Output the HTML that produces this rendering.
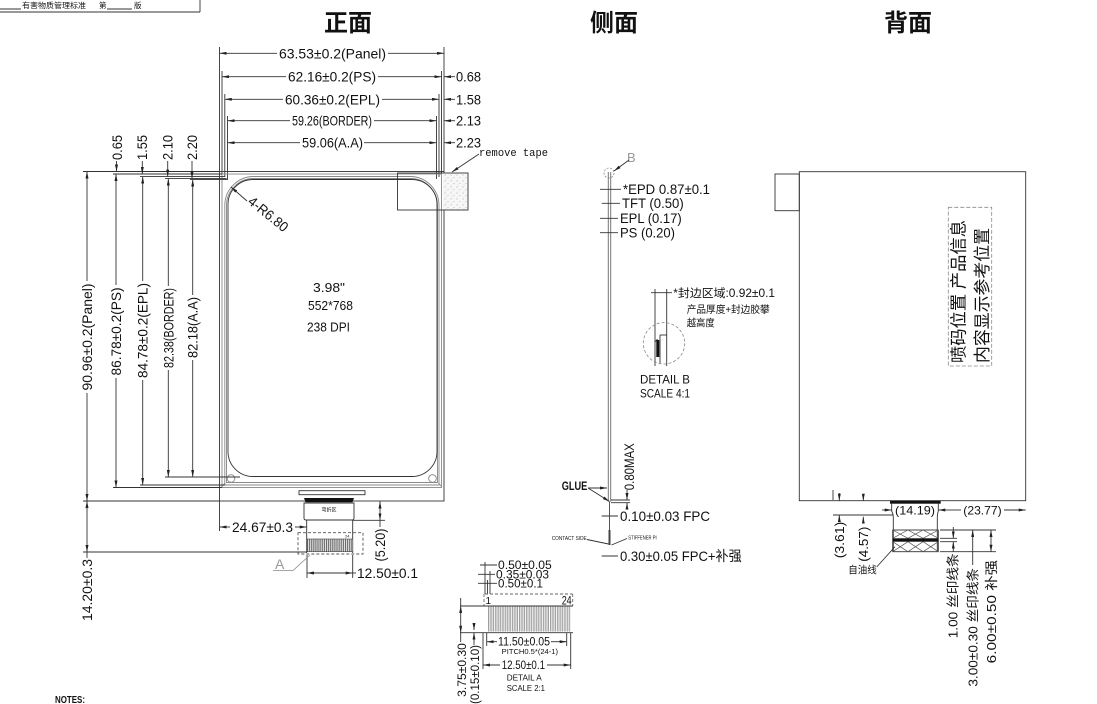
<!DOCTYPE html>
<html><head><meta charset="utf-8">
<style>
html,body{margin:0;padding:0;background:#fff;}
svg{display:block}
.l{stroke:#333;stroke-width:0.9;fill:none}
.g{stroke:#888;stroke-width:0.9;fill:none}
text{font-family:"Liberation Sans","Noto Sans CJK SC",sans-serif;fill:#111}
.d{font-size:14px}
.m{font-family:"Liberation Mono","Liberation Sans",monospace}
</style></head><body>
<svg width="1097" height="704" viewBox="0 0 1097 704" xmlns="http://www.w3.org/2000/svg">
<defs>
<marker id="a" viewBox="0 0 7 3" refX="7" refY="1.5" markerWidth="7" markerHeight="3" markerUnits="userSpaceOnUse" orient="auto"><path d="M0,0L7,1.5L0,3z" fill="#222"/></marker>
<pattern id="dots" width="6" height="6" patternUnits="userSpaceOnUse"><rect width="6" height="6" fill="#f7f7f7"/><circle cx="1" cy="1" r="0.5" fill="#999"/><circle cx="4" cy="3.5" r="0.5" fill="#aaa"/><circle cx="2" cy="5" r="0.4" fill="#bbb"/></pattern>
<pattern id="hatch" width="4" height="4" patternUnits="userSpaceOnUse" patternTransform="rotate(45)"><line x1="0" y1="0" x2="0" y2="4" stroke="#555" stroke-width="0.8"/></pattern>
<pattern id="pins" x="307" y="0" width="1.9" height="10" patternUnits="userSpaceOnUse"><rect width="1.9" height="10" fill="#fff"/><rect x="0" width="1.1" height="10" fill="#666"/></pattern>
<pattern id="pinsA" x="488" y="0" width="3.445" height="10" patternUnits="userSpaceOnUse"><line x1="0.4" y1="0" x2="0.4" y2="10" stroke="#777" stroke-width="0.7"/><line x1="2.1" y1="0" x2="2.1" y2="10" stroke="#777" stroke-width="0.7"/></pattern>
</defs>

<!-- header -->
<g class="l" stroke-width="0.7">
<line x1="0" y1="12" x2="200" y2="12"/><line x1="200" y1="0" x2="200" y2="12"/>
<line x1="0" y1="9" x2="21" y2="9"/><line x1="107" y1="9" x2="132" y2="9"/>
</g>
<text x="22" y="8" font-size="7.5" textLength="64" lengthAdjust="spacingAndGlyphs">有害物质管理标准</text>
<text x="99" y="8" font-size="7.5">第</text>
<text x="134" y="8" font-size="7.5">版</text>

<!-- titles -->
<text x="348" y="31" text-anchor="middle" font-size="24" font-weight="bold">正面</text>
<text x="614" y="31" text-anchor="middle" font-size="24" font-weight="bold">侧面</text>
<text x="908" y="31" text-anchor="middle" font-size="24" font-weight="bold">背面</text>

<!-- ============ FRONT VIEW ============ -->
<g class="l">
<line x1="219.5" y1="47" x2="219.5" y2="171.5"/>
<line x1="444" y1="47" x2="444" y2="171.5"/>
<line x1="222" y1="71" x2="222" y2="174"/>
<line x1="441.5" y1="71" x2="441.5" y2="174"/>
<line x1="224.8" y1="94" x2="224.8" y2="177"/>
<line x1="439" y1="94" x2="439" y2="177"/>
<line x1="227.5" y1="116" x2="227.5" y2="179"/>
<line x1="436.5" y1="116" x2="436.5" y2="179"/>
<line x1="277" y1="53.3" x2="219.5" y2="53.3" marker-end="url(#a)"/>
<line x1="388" y1="53.3" x2="444" y2="53.3" marker-end="url(#a)"/>
<line x1="286" y1="76.7" x2="222" y2="76.7" marker-end="url(#a)"/>
<line x1="378" y1="76.7" x2="441.5" y2="76.7" marker-end="url(#a)"/>
<line x1="455" y1="76.7" x2="444" y2="76.7" marker-end="url(#a)"/>
<line x1="283" y1="99.3" x2="224.8" y2="99.3" marker-end="url(#a)"/>
<line x1="382" y1="99.3" x2="439" y2="99.3" marker-end="url(#a)"/>
<line x1="455" y1="99.3" x2="444" y2="99.3" marker-end="url(#a)"/>
<line x1="290" y1="120.7" x2="227.5" y2="120.7" marker-end="url(#a)"/>
<line x1="374" y1="120.7" x2="436.5" y2="120.7" marker-end="url(#a)"/>
<line x1="455" y1="120.7" x2="444" y2="120.7" marker-end="url(#a)"/>
<line x1="300" y1="142.7" x2="227.5" y2="142.7" marker-end="url(#a)"/>
<line x1="364" y1="142.7" x2="436.5" y2="142.7" marker-end="url(#a)"/>
<line x1="455" y1="142.7" x2="444" y2="142.7" marker-end="url(#a)"/>
</g>
<text class="d" x="279" y="58.3" textLength="107" lengthAdjust="spacingAndGlyphs">63.53±0.2(Panel)</text>
<text class="d" x="288" y="81.7" textLength="88" lengthAdjust="spacingAndGlyphs">62.16±0.2(PS)</text>
<text class="d" x="285" y="104.3" textLength="95" lengthAdjust="spacingAndGlyphs">60.36±0.2(EPL)</text>
<text class="d" x="292" y="125.7" textLength="80" lengthAdjust="spacingAndGlyphs">59.26(BORDER)</text>
<text class="d" x="302" y="147.7" textLength="61" lengthAdjust="spacingAndGlyphs">59.06(A.A)</text>
<text class="d" x="456" y="81.7" textLength="25" lengthAdjust="spacingAndGlyphs">0.68</text>
<text class="d" x="456" y="104.3" textLength="25" lengthAdjust="spacingAndGlyphs">1.58</text>
<text class="d" x="456" y="125.7" textLength="25" lengthAdjust="spacingAndGlyphs">2.13</text>
<text class="d" x="456" y="147.7" textLength="25" lengthAdjust="spacingAndGlyphs">2.23</text>

<!-- panel -->
<rect class="l" x="219.5" y="171.5" width="224.5" height="329.5"/>
<rect class="g" x="222" y="174" width="219.5" height="313.5"/>
<path class="g" d="M224.8,485 V205.5 A29,29 0 0 1 253.8,176.5 H410 A29,29 0 0 1 439,205.5 V485 Z"/>
<path class="g" d="M226.5,482.5 V205.5 A27,27 0 0 1 253.5,178.5 H410.5 A27,27 0 0 1 437.5,205.5 V482.5 Z"/>
<rect class="l" x="228" y="179.5" width="209" height="297" rx="25" ry="25" stroke="#222"/>
<circle class="g" cx="231" cy="478.5" r="3.8"/>
<circle class="g" cx="432.5" cy="478.5" r="3.8"/>
<line class="g" x1="221.5" y1="487" x2="225" y2="483"/>
<line class="g" x1="442" y1="487" x2="438.5" y2="483"/>

<!-- remove tape -->
<rect x="443" y="173" width="25" height="37" fill="url(#dots)"/>
<rect class="l" x="397.5" y="173" width="70.5" height="37" stroke="#555"/>
<line class="l" x1="479" y1="154" x2="452" y2="172" marker-end="url(#a)"/>
<text class="m" x="479" y="156" font-size="11" textLength="69" lengthAdjust="spacingAndGlyphs">remove tape</text>

<!-- 4-R6.80 -->
<line class="l" x1="247" y1="201" x2="231" y2="187" marker-end="url(#a)"/>
<text class="d" transform="translate(247,203) rotate(39)" textLength="47" lengthAdjust="spacingAndGlyphs">4-R6.80</text>

<!-- centre texts -->
<text x="329" y="292" font-size="13" text-anchor="middle" textLength="32" lengthAdjust="spacingAndGlyphs">3.98"</text>
<text x="330.5" y="310" font-size="13" text-anchor="middle" textLength="45" lengthAdjust="spacingAndGlyphs">552*768</text>
<text x="328.5" y="331.5" font-size="13" text-anchor="middle" textLength="43" lengthAdjust="spacingAndGlyphs">238 DPI</text>

<!-- left vertical dims -->
<g class="l">
<line x1="83" y1="171.5" x2="219.5" y2="171.5"/>
<line x1="113" y1="174" x2="222" y2="174"/>
<line x1="140" y1="176.6" x2="224.8" y2="176.6"/>
<line x1="165" y1="178.6" x2="226.5" y2="178.6"/>
<line x1="190" y1="179.6" x2="228" y2="179.6"/>
<line x1="83" y1="501" x2="219.5" y2="501"/>
<line x1="113" y1="487.5" x2="222" y2="487.5"/>
<line x1="140" y1="485" x2="224.8" y2="485"/>
<line x1="165" y1="477" x2="240" y2="477"/>

<line x1="87" y1="281" x2="87" y2="171.5" marker-end="url(#a)"/>
<line x1="87" y1="393" x2="87" y2="501" marker-end="url(#a)"/>
<line x1="116" y1="285" x2="116" y2="174" marker-end="url(#a)"/>
<line x1="116" y1="378" x2="116" y2="487.5" marker-end="url(#a)"/>
<line x1="142.7" y1="281" x2="142.7" y2="176.6" marker-end="url(#a)"/>
<line x1="142.7" y1="380" x2="142.7" y2="485" marker-end="url(#a)"/>
<line x1="168.3" y1="286" x2="168.3" y2="178.6" marker-end="url(#a)"/>
<line x1="168.3" y1="370" x2="168.3" y2="477" marker-end="url(#a)"/>
<line x1="192.7" y1="295" x2="192.7" y2="179.6" marker-end="url(#a)"/>
<line x1="192.7" y1="360" x2="192.7" y2="477" marker-end="url(#a)"/>

<line x1="116.5" y1="161" x2="116.5" y2="171.5" marker-end="url(#a)"/>
<line x1="142.3" y1="161" x2="142.3" y2="174" marker-end="url(#a)"/>
<line x1="167.7" y1="161" x2="167.7" y2="176.6" marker-end="url(#a)"/>
<line x1="192" y1="161" x2="192" y2="178.6" marker-end="url(#a)"/>
</g>
<text class="d" transform="translate(92,337) rotate(-90)" text-anchor="middle" textLength="107" lengthAdjust="spacingAndGlyphs">90.96±0.2(Panel)</text>
<text class="d" transform="translate(121,331.5) rotate(-90)" text-anchor="middle" textLength="88" lengthAdjust="spacingAndGlyphs">86.78±0.2(PS)</text>
<text class="d" transform="translate(147.7,330.5) rotate(-90)" text-anchor="middle" textLength="95" lengthAdjust="spacingAndGlyphs">84.78±0.2(EPL)</text>
<text class="d" transform="translate(173.3,328) rotate(-90)" text-anchor="middle" textLength="80" lengthAdjust="spacingAndGlyphs">82.38(BORDER)</text>
<text class="d" transform="translate(197.7,327.5) rotate(-90)" text-anchor="middle" textLength="61" lengthAdjust="spacingAndGlyphs">82.18(A.A)</text>
<text class="d" transform="translate(121.8,147.5) rotate(-90)" text-anchor="middle" textLength="25" lengthAdjust="spacingAndGlyphs">0.65</text>
<text class="d" transform="translate(147,147.5) rotate(-90)" text-anchor="middle" textLength="25" lengthAdjust="spacingAndGlyphs">1.55</text>
<text class="d" transform="translate(172.3,147.5) rotate(-90)" text-anchor="middle" textLength="25" lengthAdjust="spacingAndGlyphs">2.10</text>
<text class="d" transform="translate(196.8,147.5) rotate(-90)" text-anchor="middle" textLength="25" lengthAdjust="spacingAndGlyphs">2.20</text>

<!-- FPC front -->
<rect class="l" x="299" y="490.7" width="66" height="4"/>
<path d="M304,498 H354 L352.5,502.3 H305.5 Z" fill="#111"/>
<path class="l" d="M304,503 H354 V518 Q354,520 352,520 H306 Q304,520 304,518 Z" fill="url(#hatch)"/>
<rect x="321" y="507" width="16" height="5.5" fill="#fff"/>
<text x="329" y="511.5" font-size="5" text-anchor="middle">弯折区</text>
<g class="l">
<line x1="306.7" y1="520" x2="306.7" y2="553"/>
<line x1="352.7" y1="520" x2="352.7" y2="553"/>
<rect x="298" y="532.7" width="65" height="21.3" stroke="#555" stroke-dasharray="3,2"/>
</g>
<rect x="307" y="539" width="45.7" height="12.7" fill="url(#pins)" stroke="#444" stroke-width="0.6"/>
<text x="345" y="537.6" font-size="4">24</text>
<g class="l">
<line x1="219.5" y1="501" x2="219.5" y2="531"/>
<line x1="230" y1="527" x2="219.5" y2="527" marker-end="url(#a)"/>
<line x1="295" y1="527" x2="306.7" y2="527" marker-end="url(#a)"/>
<line x1="353" y1="520.3" x2="385" y2="520.3"/>
<line x1="380" y1="511" x2="380" y2="501.5" marker-end="url(#a)"/>
<line x1="380" y1="511" x2="380" y2="520.3" marker-end="url(#a)"/>
<line x1="380" y1="520.3" x2="380" y2="527"/>
<line x1="307" y1="555" x2="307" y2="578"/>
<line x1="352.7" y1="555" x2="352.7" y2="578"/>
<line x1="330" y1="573" x2="307" y2="573" marker-end="url(#a)"/>
<line x1="330" y1="573" x2="352.7" y2="573" marker-end="url(#a)"/>
<line x1="352.7" y1="573" x2="356" y2="573"/>
<line x1="83" y1="552" x2="307" y2="552"/>
<line x1="87" y1="526" x2="87" y2="501" marker-end="url(#a)"/>
<line x1="87" y1="526" x2="87" y2="552" marker-end="url(#a)"/>
<line x1="87" y1="552" x2="87" y2="558"/>
</g>
<text class="d" x="232" y="532" textLength="61" lengthAdjust="spacingAndGlyphs">24.67±0.3</text>
<text class="d" transform="translate(385,545) rotate(-90)" text-anchor="middle" textLength="33" lengthAdjust="spacingAndGlyphs">(5.20)</text>
<text class="d" x="357" y="578" textLength="61" lengthAdjust="spacingAndGlyphs">12.50±0.1</text>
<text class="d" transform="translate(92,590) rotate(-90)" text-anchor="middle" textLength="62" lengthAdjust="spacingAndGlyphs">14.20±0.3</text>
<text x="275" y="569" font-size="14" style="fill:#999">A</text>
<polyline points="273,570.5 293,570.5 310,555" fill="none" stroke="#888" stroke-width="0.8"/>

<!-- ============ SIDE VIEW ============ -->
<g>
<line x1="608.3" y1="172" x2="608.3" y2="501.7" stroke="#777" stroke-width="1"/>
<line x1="610.7" y1="172" x2="610.7" y2="501.7" stroke="#777" stroke-width="1"/>
<line x1="609.5" y1="501.7" x2="609.5" y2="545" stroke="#555" stroke-width="1"/>
<line x1="609.5" y1="530" x2="609.5" y2="545" stroke="#444" stroke-width="2"/>
<circle cx="609" cy="173" r="5" fill="none" stroke="#888" stroke-width="0.8" stroke-dasharray="2,1.5"/>
</g>
<text x="627" y="162" font-size="13" style="fill:#999">B</text>
<line class="l" x1="629" y1="160" x2="614" y2="171" marker-end="url(#a)" stroke="#666"/>
<g class="l">
<line x1="600" y1="189.3" x2="621" y2="189.3"/>
<line x1="601.7" y1="203.3" x2="620" y2="203.3"/>
<line x1="600" y1="218.3" x2="618" y2="218.3"/>
<line x1="600" y1="232.7" x2="618" y2="232.7"/>
</g>
<text class="d" x="623" y="194" textLength="87" lengthAdjust="spacingAndGlyphs">*EPD 0.87±0.1</text>
<text class="d" x="622" y="208" textLength="61.7" lengthAdjust="spacingAndGlyphs">TFT (0.50)</text>
<text class="d" x="620" y="223" textLength="61.7" lengthAdjust="spacingAndGlyphs">EPL (0.17)</text>
<text class="d" x="620" y="237.4" textLength="55" lengthAdjust="spacingAndGlyphs">PS (0.20)</text>

<!-- detail B -->
<g class="l" stroke-width="0.8">
<line x1="655" y1="289" x2="655" y2="366"/>
<line x1="666.7" y1="289" x2="666.7" y2="366"/>
<line x1="651" y1="292.7" x2="672" y2="292.7"/>
<line x1="660" y1="335" x2="660" y2="364"/>
<line x1="660" y1="335" x2="666.7" y2="335"/>
<line x1="655" y1="342" x2="657.5" y2="339"/>
</g>
<rect x="656.3" y="340" width="3" height="17" fill="#111"/>
<circle cx="664" cy="343.3" r="20.7" fill="none" stroke="#888" stroke-width="0.8" stroke-dasharray="3,2"/>
<text x="673.3" y="297" font-size="11.5" textLength="101.7" lengthAdjust="spacingAndGlyphs">*封边区域:0.92±0.1</text>
<text x="686.7" y="313" font-size="10" textLength="83" lengthAdjust="spacingAndGlyphs">产品厚度+封边胶攀</text>
<text x="686.7" y="326.5" font-size="10" textLength="28" lengthAdjust="spacingAndGlyphs">越高度</text>
<text x="640" y="383.5" font-size="12" textLength="50" lengthAdjust="spacingAndGlyphs">DETAIL B</text>
<text x="640" y="397.5" font-size="12" textLength="50" lengthAdjust="spacingAndGlyphs">SCALE 4:1</text>

<!-- side bottom -->
<g class="l" stroke-width="0.8">
<line x1="611" y1="500" x2="630" y2="500"/>
<line x1="611" y1="502.7" x2="630" y2="502.7"/>
<line x1="627" y1="490" x2="627" y2="500" marker-end="url(#a)"/>
<line x1="627" y1="509" x2="627" y2="502.7" marker-end="url(#a)"/>
<line x1="588" y1="488" x2="607" y2="488" marker-end="url(#a)"/>
<line x1="588" y1="488" x2="609.5" y2="501.5" marker-end="url(#a)"/>
<line x1="601.7" y1="516" x2="618" y2="516"/>
<line x1="601.7" y1="556" x2="618" y2="556"/>
<line x1="587" y1="539.5" x2="608.5" y2="544"/>
<line x1="627" y1="538.5" x2="611.5" y2="545"/>
</g>
<text transform="translate(634,466.7) rotate(-90)" class="d" text-anchor="middle" textLength="47" lengthAdjust="spacingAndGlyphs">0.80MAX</text>
<text x="561.7" y="490" font-size="12" font-weight="bold" textLength="25.6" lengthAdjust="spacingAndGlyphs">GLUE</text>
<text x="620" y="521" font-size="14" textLength="90" lengthAdjust="spacingAndGlyphs">0.10±0.03 FPC</text>
<text x="551.7" y="540" font-size="5" textLength="35" lengthAdjust="spacingAndGlyphs">CONTACT SIDE</text>
<text x="628.3" y="539.5" font-size="5" textLength="28.4" lengthAdjust="spacingAndGlyphs">STIFFENER PI</text>
<text x="620" y="561" font-size="14" textLength="121.7" lengthAdjust="spacingAndGlyphs">0.30±0.05 FPC+补强</text>

<!-- ============ BACK VIEW ============ -->
<rect class="l" x="799.3" y="171.7" width="226.4" height="329" stroke="#555"/>
<rect class="l" x="775" y="174" width="24.3" height="36.7" stroke="#555"/>
<rect x="948.3" y="207.3" width="43.4" height="158.7" fill="none" stroke="#888" stroke-width="0.8" stroke-dasharray="4,2"/>
<text transform="translate(964.6,291.5) rotate(-90)" text-anchor="middle" font-size="17" textLength="143" lengthAdjust="spacingAndGlyphs">喷码位置 产品信息</text>
<text transform="translate(988,295.5) rotate(-90)" text-anchor="middle" font-size="17" textLength="135" lengthAdjust="spacingAndGlyphs">内容显示参考位置</text>

<rect x="890" y="500.7" width="50.7" height="3" fill="#111"/>
<g class="l">
<path d="M891.7,503 V511 Q893.3,514 893.3,517 V551.7"/>
<path d="M938.3,503 V511 Q937.3,514 937.3,517 V551.7"/>
<rect x="892.7" y="530" width="45.6" height="21.7"/>
<path d="M892.7,530 L907.9,538.3 L923.1,530 L938.3,538.3 M892.7,538.3 L907.9,530 L923.1,538.3 L938.3,530" stroke="#555" stroke-width="0.7"/>
<path d="M892.7,541.7 L907.9,551.7 L923.1,541.7 L938.3,551.7 M892.7,551.7 L907.9,541.7 L923.1,551.7 L938.3,541.7" stroke="#555" stroke-width="0.7"/>
</g>
<rect x="892.7" y="538.3" width="45.6" height="3.4" fill="#111"/>
<g class="l" stroke-width="0.8">
<line x1="882" y1="510" x2="891.7" y2="510" marker-end="url(#a)"/>
<line x1="948" y1="510" x2="938.3" y2="510" marker-end="url(#a)"/>
<line x1="948" y1="510" x2="961" y2="510"/>
<line x1="1004" y1="510" x2="1025.7" y2="510" marker-end="url(#a)"/>
<line x1="940" y1="530" x2="996" y2="530"/>
<line x1="940" y1="538.3" x2="957" y2="538.3"/>
<line x1="940" y1="541.7" x2="957" y2="541.7"/>
<line x1="940" y1="551.7" x2="996" y2="551.7"/>
<line x1="953.3" y1="527" x2="953.3" y2="538.3" marker-end="url(#a)"/>
<line x1="953.3" y1="552" x2="953.3" y2="541.7" marker-end="url(#a)"/>
<line x1="972.7" y1="545" x2="972.7" y2="530" marker-end="url(#a)"/>
<line x1="972.7" y1="545" x2="972.7" y2="565"/>
<line x1="991" y1="541" x2="991" y2="530" marker-end="url(#a)"/>
<line x1="991" y1="541" x2="991" y2="551.7" marker-end="url(#a)"/>
<line x1="833" y1="490" x2="833" y2="500"/>
<line x1="833" y1="515" x2="893" y2="515"/>
<line x1="839.3" y1="493" x2="839.3" y2="500.7" marker-end="url(#a)"/>
<line x1="839.3" y1="520" x2="839.3" y2="515" marker-end="url(#a)"/>
<line x1="863.3" y1="496" x2="863.3" y2="500.7" marker-end="url(#a)"/>
<line x1="863.3" y1="522" x2="863.3" y2="516.7" marker-end="url(#a)"/>
<line x1="876.7" y1="567" x2="895" y2="546.7"/>
</g>
<text x="895" y="514.5" font-size="12" textLength="40" lengthAdjust="spacingAndGlyphs">(14.19)</text>
<text x="963.3" y="514.5" font-size="12" textLength="38.4" lengthAdjust="spacingAndGlyphs">(23.77)</text>
<text transform="translate(957.5,595.8) rotate(-90)" text-anchor="middle" font-size="13" textLength="85" lengthAdjust="spacingAndGlyphs">1.00 丝印线条</text>
<text transform="translate(977.5,627.3) rotate(-90)" text-anchor="middle" font-size="13" textLength="118.7" lengthAdjust="spacingAndGlyphs">3.00±0.30 丝印线条</text>
<text transform="translate(995.8,611.7) rotate(-90)" text-anchor="middle" font-size="13" textLength="103.3" lengthAdjust="spacingAndGlyphs">6.00±0.50 补强</text>
<text transform="translate(843.8,540) rotate(-90)" text-anchor="middle" font-size="12.5" textLength="36.6" lengthAdjust="spacingAndGlyphs">(3.61)</text>
<text transform="translate(867.8,544.2) rotate(-90)" text-anchor="middle" font-size="12.5" textLength="35" lengthAdjust="spacingAndGlyphs">(4.57)</text>
<text x="848.3" y="573.5" font-size="10" textLength="28.4" lengthAdjust="spacingAndGlyphs">自油线</text>

<!-- ============ DETAIL A ============ -->
<g class="l" stroke-width="0.8">
<line x1="480" y1="565" x2="497" y2="565"/>
<line x1="478" y1="574.3" x2="495" y2="574.3"/>
<line x1="478" y1="583.3" x2="497" y2="583.3"/>
<line x1="485" y1="562" x2="485" y2="594"/>
<line x1="490" y1="571" x2="490" y2="594"/>
<line x1="487.5" y1="580" x2="487.5" y2="594"/>
<line x1="485" y1="594" x2="572.7" y2="594" stroke-dasharray="3,2" stroke="#666"/>
<line x1="484" y1="594" x2="484" y2="606" stroke-dasharray="3,2" stroke="#666"/>
<line x1="572.7" y1="594" x2="572.7" y2="606" stroke-dasharray="3,2" stroke="#666"/>
<line x1="460" y1="606" x2="573" y2="606"/>
<line x1="460" y1="632.7" x2="573" y2="632.7"/>
<line x1="460.7" y1="619" x2="460.7" y2="606" marker-end="url(#a)"/>
<line x1="460.7" y1="619" x2="460.7" y2="632.7" marker-end="url(#a)"/>
<line x1="460.7" y1="598" x2="460.7" y2="606"/>
<line x1="460.7" y1="632.7" x2="460.7" y2="642"/>
<line x1="474" y1="624" x2="474" y2="630" marker-end="url(#a)"/>
<line x1="474" y1="640" x2="474" y2="632.7" marker-end="url(#a)"/>
<line x1="474" y1="640" x2="474" y2="645"/>
<line x1="486.7" y1="633" x2="486.7" y2="646"/>
<line x1="566.7" y1="633" x2="566.7" y2="646"/>
<line x1="497" y1="641.7" x2="486.7" y2="641.7" marker-end="url(#a)"/>
<line x1="551" y1="641.7" x2="566.7" y2="641.7" marker-end="url(#a)"/>
<line x1="483" y1="633" x2="483" y2="669"/>
<line x1="570.7" y1="633" x2="570.7" y2="669"/>
<line x1="500" y1="665" x2="483" y2="665" marker-end="url(#a)"/>
<line x1="547" y1="665" x2="570.7" y2="665" marker-end="url(#a)"/>
</g>
<rect x="488" y="606.5" width="82.7" height="25" fill="url(#pinsA)"/>
<text x="498" y="569" font-size="11.5" textLength="53.7" lengthAdjust="spacingAndGlyphs">0.50±0.05</text>
<text x="496" y="578.3" font-size="11.5" textLength="53" lengthAdjust="spacingAndGlyphs">0.35±0.03</text>
<text x="498" y="587.3" font-size="11.5" textLength="45" lengthAdjust="spacingAndGlyphs">0.50±0.1</text>
<text x="485.5" y="604" font-size="10">1</text>
<text x="561.7" y="604.5" font-size="12" textLength="10" lengthAdjust="spacingAndGlyphs">24</text>
<text x="498" y="645.7" font-size="11.5" textLength="52" lengthAdjust="spacingAndGlyphs">11.50±0.05</text>
<text x="501.7" y="653.8" font-size="7.5" textLength="56.3" lengthAdjust="spacingAndGlyphs">PITCH0.5*(24-1)</text>
<text x="501.7" y="669" font-size="11.5" textLength="43.3" lengthAdjust="spacingAndGlyphs">12.50±0.1</text>
<text x="506.7" y="680.5" font-size="8.5" textLength="35" lengthAdjust="spacingAndGlyphs">DETAIL A</text>
<text x="506.7" y="691" font-size="8.5" textLength="38.3" lengthAdjust="spacingAndGlyphs">SCALE 2:1</text>
<text transform="translate(465.8,670) rotate(-90)" text-anchor="middle" font-size="11.5" textLength="53.7" lengthAdjust="spacingAndGlyphs">3.75±0.30</text>
<text transform="translate(479.2,674.5) rotate(-90)" text-anchor="middle" font-size="11.5" textLength="59" lengthAdjust="spacingAndGlyphs">(0.15±0.10)</text>

<!-- notes -->
<text x="55" y="703" font-size="10" font-weight="bold" textLength="30" lengthAdjust="spacingAndGlyphs">NOTES:</text>
</svg>
</body></html>
